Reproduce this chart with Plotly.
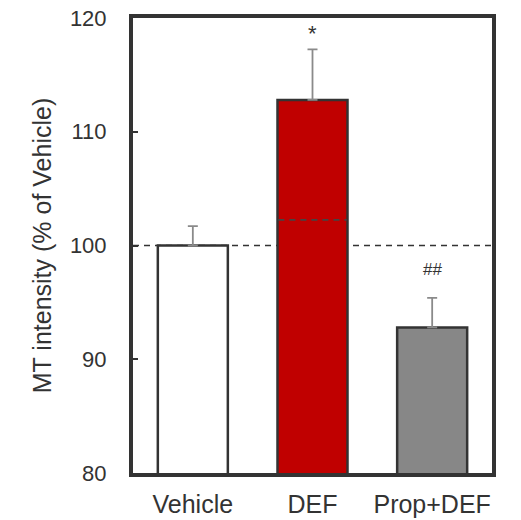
import plotly.graph_objects as go

categories = ["Vehicle", "DEF", "Prop+DEF"]
values = [100.0, 112.8, 92.8]
errors = [1.7, 4.45, 2.6]
bar_colors = ["#FFFFFF", "#C00000", "#878787"]
sig_labels = ["", "*", "##"]
sig_values = [None, 118.6, 97.9]
y_ticks = [80, 90, 100, 110, 120]
ref_line = 100
def_inner_line = 102.25

FONT = "Liberation Sans, Arial, sans-serif"

fig = go.Figure()
fig.add_trace(go.Bar(
    x=categories, y=values,
    width=0.585,
    marker=dict(color=bar_colors, line=dict(color="#333333", width=2.5)),
    error_y=dict(type="data", symmetric=False, array=errors,
                 arrayminus=[0, 0, 0], color="#8a8a8a", thickness=1.8, width=5),
    showlegend=False,
))

sig_sizes = {"*": 22, "##": 17}
for c, lab, v in zip(categories, sig_labels, sig_values):
    if lab:
        fig.add_annotation(x=c, y=v, text=lab, showarrow=False,
                           font=dict(family=FONT, size=sig_sizes[lab], color="#333333"))

fig.add_shape(type="line", xref="paper", yref="y", x0=0, x1=1,
              y0=ref_line, y1=ref_line, layer="below",
              line=dict(color="#333333", width=1.6, dash="6px,5px"))
fig.add_shape(type="line", xref="x", yref="y", x0=1 - 0.285, x1=1 + 0.285,
              y0=def_inner_line, y1=def_inner_line, layer="above",
              line=dict(color="#444444", width=1.6, dash="6px,5px"))

fig.update_layout(
    width=513, height=512,
    margin=dict(l=125, r=29, t=10, b=47),
    paper_bgcolor="white", plot_bgcolor="white",
    font=dict(family=FONT, size=22, color="#333333"),
    bargap=0.4,
)
fig.update_xaxes(
    range=[-0.5, 2.5], showline=True, linecolor="#333333", linewidth=4,
    mirror=True, ticks="", showgrid=False, tickfont=dict(size=25, color="#333333"),
    ticklabelstandoff=6, automargin=False, ticklabeloverflow="allow",
)
fig.update_yaxes(
    range=[80, 120], tickvals=y_ticks, showline=True, linecolor="#333333",
    linewidth=4, mirror=True, ticks="inside", ticklen=5, tickwidth=1.5,
    tickcolor="#333333", showgrid=False, zeroline=False,
    tickfont=dict(size=22, color="#333333"), ticklabelstandoff=18,
    title=dict(text="MT intensity (% of Vehicle)", font=dict(size=25, color="#333333"),
               standoff=12),
    automargin=False, ticklabeloverflow="allow",
)

fig.write_html("out.html")
